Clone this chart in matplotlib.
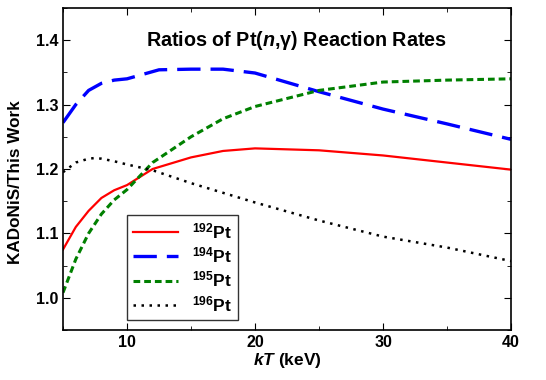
import numpy as np
import matplotlib
matplotlib.use('Agg')
import matplotlib.pyplot as plt
from matplotlib.ticker import MultipleLocator

plt.rcParams['font.family'] = ['Liberation Sans', 'DejaVu Sans']
plt.rcParams['font.weight'] = 'bold'
plt.rcParams['mathtext.fontset'] = 'custom'
plt.rcParams['mathtext.rm'] = 'Liberation Sans:bold'
plt.rcParams['mathtext.it'] = 'Liberation Sans:bold:italic'
plt.rcParams['mathtext.bf'] = 'Liberation Sans:bold'

# ratios KADoNiS / this work
kT_192 = [5, 6, 7, 8, 9, 10, 12, 15, 17.5, 20, 25, 30, 35, 40]
r_192 = [1.075, 1.110, 1.135, 1.155, 1.167, 1.175, 1.200, 1.218, 1.228, 1.232, 1.229, 1.221, 1.210, 1.199]

kT_194 = [5, 6, 7, 8, 9, 10, 12.5, 15, 17.5, 20, 25, 30, 35, 40]
r_194 = [1.272, 1.300, 1.322, 1.333, 1.338, 1.340, 1.354, 1.355, 1.355, 1.349, 1.320, 1.293, 1.270, 1.246]

kT_195 = [5, 6, 7, 8, 9, 10, 12, 15, 17.5, 20, 25, 30, 35, 40]
r_195 = [1.008, 1.060, 1.100, 1.130, 1.152, 1.168, 1.210, 1.250, 1.278, 1.297, 1.322, 1.335, 1.338, 1.340]

kT_196 = [5, 6, 7, 7.5, 8, 9, 10, 12, 15, 20, 25, 30, 35, 40]
r_196 = [1.195, 1.210, 1.216, 1.217, 1.216, 1.212, 1.207, 1.198, 1.178, 1.148, 1.120, 1.095, 1.078, 1.057]

fig = plt.figure(figsize=(5.46, 3.80), dpi=100)
ax = fig.add_axes([0.1154, 0.1316, 0.8206, 0.8474])

ax.plot(kT_192, r_192, color='#ff0000', lw=1.6, ls='-', label=r'$^{192}$Pt')
ax.plot(kT_194, r_194, color='#0000ff', lw=2.4, ls=(0, (7, 3)), label=r'$^{194}$Pt')
ax.plot(kT_195, r_195, color='#008000', lw=2.2, ls=(0, (2.2, 1.3)), label=r'$^{195}$Pt')
ax.plot(kT_196, r_196, color='black', lw=1.8, ls=(0, (1, 2.2)), label=r'$^{196}$Pt')

ax.set_xlim(5, 40)
ax.set_ylim(0.95, 1.45)
ax.xaxis.set_major_locator(MultipleLocator(10))
ax.xaxis.set_minor_locator(MultipleLocator(5))
ax.yaxis.set_major_locator(MultipleLocator(0.1))
ax.yaxis.set_minor_locator(MultipleLocator(0.05))
ax.set_yticks([1.0, 1.1, 1.2, 1.3, 1.4])
ax.tick_params(which='both', direction='in', top=True, right=True, labelsize=11.5)
ax.tick_params(which='major', length=5)
ax.tick_params(which='minor', length=3)
ax.set_yticklabels(['1.0', '1.1', '1.2', '1.3', '1.4'])
for s in ax.spines.values():
    s.set_linewidth(1.2)

ax.set_xlabel(r'$kT$ (keV)', fontsize=12.5, fontweight='bold', labelpad=1)
ax.set_ylabel('KADoNiS/This Work', fontsize=12.3, fontweight='bold')
ax.yaxis.set_label_coords(-0.09, 0.46)
ax.text(0.52, 0.9, r'Ratios of Pt($n$,$\mathrm{\gamma}$) Reaction Rates', transform=ax.transAxes,
        ha='center', va='center', fontsize=14.2, fontweight='bold')

leg = ax.legend(loc='lower left', bbox_to_anchor=(0.143, 0.031), fontsize=12.5,
                frameon=True, fancybox=False, edgecolor='black', handlelength=2.6,
                borderaxespad=0, labelspacing=0.25, handletextpad=0.8, borderpad=0.35)
leg.get_frame().set_linewidth(1.0)

fig.savefig('out.png', dpi=100)
